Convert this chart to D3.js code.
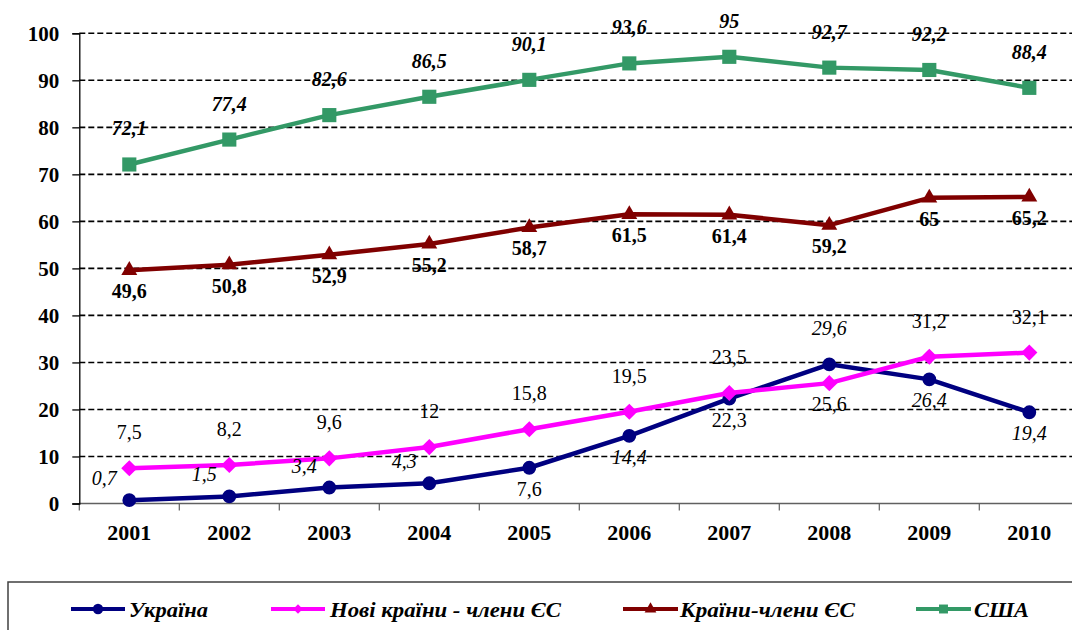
<!DOCTYPE html>
<html><head><meta charset="utf-8">
<script src="https://cdn.jsdelivr.net/npm/d3@7"></script>
<style>body{margin:0;background:#fff}svg{display:block}</style>
</head><body>
<svg id="c" width="1072" height="630"></svg>
<script>
const years = ["2001","2002","2003","2004","2005","2006","2007","2008","2009","2010"];
const ukraine = [0.7,1.5,3.4,4.3,7.6,14.4,22.3,29.6,26.4,19.4];
const newEU = [7.5,8.2,9.6,12,15.8,19.5,23.5,25.6,31.2,32.1];
const eu = [49.6,50.8,52.9,55.2,58.7,61.5,61.4,59.2,65,65.2];
const usa = [72.1,77.4,82.6,86.5,90.1,93.6,95,92.7,92.2,88.4];
const yTicks = [0,10,20,30,40,50,60,70,80,90,100];
const seriesNames = ["Україна","Нові країни - члени ЄС","Країни-члени ЄС","США"];

// label placement and style (layout only)
const ukrPlace = ["ul","ul","ul","ul","b","b","b","a","b","b"];
const ukrStyle = ["italic","italic","italic","italic","normal","italic","normal","italic","italic","italic"];
const newPlace = ["a","a","a","a","a","a","a","b","a","a"];
const euPlace = years.map(()=> "b");
const usPlace = years.map(()=> "a");

const FONT = "'Liberation Serif', 'Times New Roman', 'DejaVu Serif', serif";
const svg = d3.select("#c");
const x = d3.scaleBand().domain(years).range([79.3, 1079.3]);
const y = d3.scaleLinear().domain([0,100]).range([503.5, 33.3]);
const cx = d => x(d) + x.bandwidth()/2;

// grid
svg.append("g").selectAll("line").data(yTicks.filter(t=>t>0)).join("line")
  .attr("x1",79.3).attr("x2",1072).attr("y1",d=>y(d)).attr("y2",d=>y(d))
  .attr("stroke","#000").attr("stroke-width",1.6).attr("stroke-dasharray","6,3");

// x axis
const xa = svg.append("g").attr("transform",`translate(0,${y(0)})`)
  .call(d3.axisBottom(x).tickSize(0).tickPadding(0));
xa.select(".domain").remove();
xa.selectAll("text").attr("y",29).attr("dy","0.35em")
  .attr("font-family",FONT).style("font-family",FONT)
  .style("font-weight","bold").style("font-size","22px").attr("fill","#000");
svg.append("line").attr("x1",79.3).attr("x2",1072).attr("y1",y(0)).attr("y2",y(0))
  .attr("stroke","#606060").attr("stroke-width",1.5);
svg.append("g").selectAll("line").data(d3.range(11)).join("line")
  .attr("x1",d=>79.3+d*x.step()).attr("x2",d=>79.3+d*x.step())
  .attr("y1",y(0)).attr("y2",y(0)+7).attr("stroke","#606060").attr("stroke-width",1.2);

// y axis
const ya = svg.append("g").attr("transform","translate(79.3,0)")
  .call(d3.axisLeft(y).tickValues(yTicks).tickSize(7).tickPadding(13).tickFormat(d3.format("d")));
ya.select(".domain").attr("stroke","#000").attr("stroke-width",1.3);
ya.selectAll(".tick line").attr("stroke","#000").attr("stroke-width",1.3);
ya.selectAll("text").attr("font-family",FONT).style("font-family",FONT)
  .style("font-weight","bold").style("font-size","21px").attr("fill","#000");

const fmt = v => String(v).replace(".", ",");
const line = d3.line().x((d,i)=>cx(years[i])).y(d=>y(d));

const series = [
  {vals: ukraine, color:"#000080", marker:"circle", place: ukrPlace, weight:"normal", style: i=>ukrStyle[i]},
  {vals: newEU, color:"#FF00FF", marker:"diamond", place: newPlace, weight:"normal", style: ()=>"normal"},
  {vals: eu, color:"#800000", marker:"triangle", place: euPlace, weight:"bold", style: ()=>"normal"},
  {vals: usa, color:"#339966", marker:"square", place: usPlace, weight:"bold", style: ()=>"italic"}
];
const sym = {
  circle: d3.symbol().type(d3.symbolCircle).size(150),
  diamond: d3.symbol().type(d3.symbolSquare).size(130),
  triangle: d3.symbol().type(d3.symbolTriangle).size(110),
  square: d3.symbol().type(d3.symbolSquare).size(200)
};
const symSmall = {
  circle: d3.symbol().type(d3.symbolCircle).size(85),
  diamond: d3.symbol().type(d3.symbolSquare).size(45),
  triangle: d3.symbol().type(d3.symbolTriangle).size(60),
  square: d3.symbol().type(d3.symbolSquare).size(80)
};
const rot = m => m === "diamond" ? " rotate(45)" : "";

series.forEach(s=>{
  const g = svg.append("g");
  g.append("path").datum(s.vals).attr("d",line).attr("fill","none")
    .attr("stroke",s.color).attr("stroke-width",4.5).attr("stroke-linejoin","round");
  g.selectAll("path.m").data(s.vals).join("path").attr("class","m")
    .attr("transform",(d,i)=>`translate(${cx(years[i])},${y(d)})${rot(s.marker)}`)
    .attr("d",sym[s.marker]()).attr("fill",s.color);
});

const off = {a:[0,-36], b:[0,21], ul:[-25,-22]};
series.forEach(s=>{
  svg.append("g").selectAll("text").data(s.vals).join("text")
    .attr("x",(d,i)=>cx(years[i])+off[s.place[i]][0])
    .attr("y",(d,i)=>y(d)+off[s.place[i]][1])
    .attr("text-anchor","middle").attr("dominant-baseline","central")
    .attr("font-family",FONT).style("font-family",FONT)
    .style("font-size","20px").style("font-weight",s.weight).style("font-style",(d,i)=>s.style(i))
    .attr("fill","#000").text(d=>fmt(d));
});

// legend
svg.append("rect").attr("x",8).attr("y",582).attr("width",1080).attr("height",60)
  .attr("fill","none").attr("stroke","#404040").attr("stroke-width",1.5);
const legPos = [{x1:71,x2:125,t:129,w:79},{x1:271,x2:325,t:330,w:231},{x1:623,x2:678,t:680,w:175},{x1:916,x2:971,t:974,w:55}];
series.forEach((s,i)=>{
  const p = legPos[i], ly = 609;
  svg.append("line").attr("x1",p.x1).attr("x2",p.x2).attr("y1",ly).attr("y2",ly)
    .attr("stroke",s.color).attr("stroke-width",4);
  svg.append("path").attr("transform",`translate(${(p.x1+p.x2)/2},${ly})${rot(s.marker)}`)
    .attr("d",symSmall[s.marker]()).attr("fill",s.color);
  svg.append("text").attr("x",p.t).attr("y",617)
    .attr("textLength",p.w).attr("lengthAdjust","spacingAndGlyphs")
    .attr("font-family",FONT).style("font-family",FONT)
    .style("font-size","22px").style("font-weight","bold").style("font-style","italic")
    .attr("fill","#000").text(seriesNames[i]);
});
</script>
</body></html>
